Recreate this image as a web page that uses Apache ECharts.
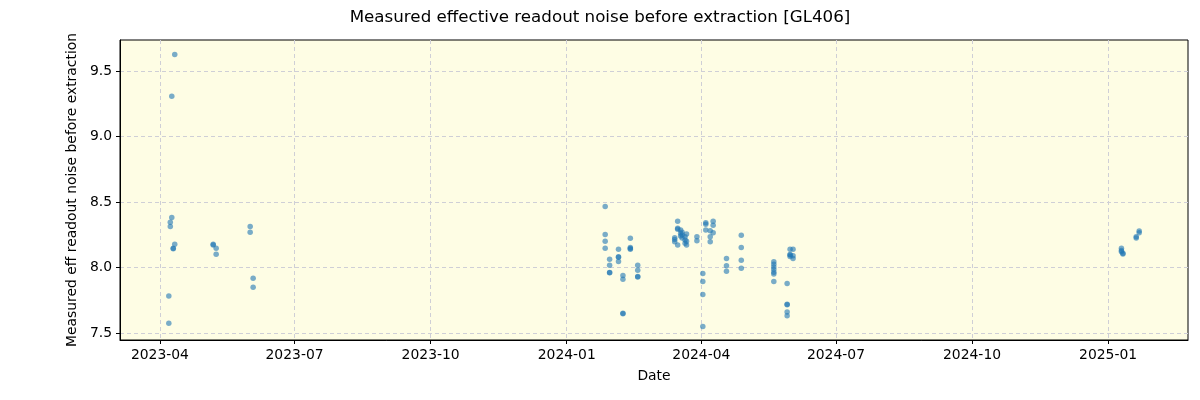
<!DOCTYPE html>
<html>
<head>
<meta charset="utf-8">
<script src="https://cdn.jsdelivr.net/npm/echarts@6/dist/echarts.min.js"></script>
<style>html,body{margin:0;padding:0;background:#fff;}#c{width:1200px;height:400px;}</style>
</head>
<body>
<div id="c"></div>
<script>
const dates = [
 '2023-04-07','2023-04-07','2023-04-08','2023-04-08','2023-04-09','2023-04-09',
 '2023-04-10','2023-04-10','2023-04-11','2023-04-11',
 '2023-05-07','2023-05-07','2023-05-09','2023-05-09',
 '2023-06-01','2023-06-01','2023-06-03','2023-06-03',
 '2024-01-27','2024-01-27','2024-01-27','2024-01-27',
 '2024-01-30','2024-01-30','2024-01-30','2024-01-30',
 '2024-02-05','2024-02-05','2024-02-05','2024-02-05',
 '2024-02-08','2024-02-08','2024-02-08','2024-02-08',
 '2024-02-13','2024-02-13','2024-02-13','2024-02-13',
 '2024-02-18','2024-02-18','2024-02-18','2024-02-18',
 '2024-03-14','2024-03-14','2024-03-14',
 '2024-03-16','2024-03-16','2024-03-16','2024-03-16',
 '2024-03-18','2024-03-18','2024-03-18',
 '2024-03-19','2024-03-19','2024-03-19',
 '2024-03-21','2024-03-21','2024-03-21',
 '2024-03-22','2024-03-22','2024-03-22',
 '2024-03-29','2024-03-29',
 '2024-04-02','2024-04-02','2024-04-02','2024-04-02',
 '2024-04-04','2024-04-04','2024-04-04',
 '2024-04-07','2024-04-07','2024-04-07',
 '2024-04-09','2024-04-09','2024-04-09',
 '2024-04-18','2024-04-18','2024-04-18',
 '2024-04-28','2024-04-28','2024-04-28','2024-04-28',
 '2024-05-20','2024-05-20','2024-05-20','2024-05-20','2024-05-20','2024-05-20','2024-05-20',
 '2024-05-29','2024-05-29','2024-05-29','2024-05-29','2024-05-29',
 '2024-05-31','2024-05-31','2024-05-31','2024-05-31',
 '2024-06-02','2024-06-02','2024-06-02',
 '2025-01-10','2025-01-10','2025-01-10','2025-01-11','2025-01-11',
 '2025-01-20','2025-01-20','2025-01-22','2025-01-22'
];
const values = [
 7.782,7.574,8.345,8.314,8.383,9.307,
 8.144,8.147,9.627,8.177,
 8.177,8.172,8.147,8.101,
 8.314,8.269,7.918,7.849,
 8.467,8.253,8.200,8.147,
 8.063,8.017,7.963,7.960,
 8.139,8.083,8.078,8.047,
 7.940,7.910,7.647,7.652,
 8.223,8.154,8.139,8.145,
 8.017,7.979,7.927,7.932,
 8.228,8.197,8.215,
 8.353,8.292,8.172,8.300,
 8.261,8.286,8.240,
 8.248,8.270,8.225,
 8.235,8.210,8.185,
 8.256,8.172,8.200,
 8.235,8.205,
 7.955,7.894,7.795,7.551,
 8.342,8.286,8.330,
 8.281,8.235,8.197,
 8.353,8.322,8.266,
 8.070,8.014,7.971,
 8.246,8.154,8.055,7.994,
 8.044,8.025,8.005,7.985,7.965,7.950,7.894,
 7.879,7.716,7.720,7.660,7.632,
 8.139,8.095,8.100,8.085,
 8.139,8.070,8.090,
 8.147,8.130,8.121,8.110,8.103,
 8.235,8.225,8.279,8.265
];
const xTickLabels = ['2023-04','2023-07','2023-10','2024-01','2024-04','2024-07','2024-10','2025-01'];
const yTickValues = [7.5, 8.0, 8.5, 9.0, 9.5];

function parseYM(s){ const p = s.split('-'); return Date.UTC(+p[0], +p[1]-1, 1); }
function parseD(s){ const p = s.split('-'); return Date.UTC(+p[0], +p[1]-1, +p[2]); }
const xTicks = xTickLabels.map(parseYM);
const pts = dates.map((d,i)=>[parseD(d), values[i]]);

const chart = echarts.init(document.getElementById('c'), null, {renderer:'canvas'});
const font = 'DejaVu Sans';
chart.setOption({
  animation: false,
  backgroundColor: '#ffffff',
  title: {
    text: 'Measured effective readout noise before extraction [GL406]',
    left: 'center', top: 4,
    textStyle: {fontFamily: font, fontSize: 16.7, fontWeight: 'normal', color: '#000'}
  },
  grid: {
    left: 120, right: 12, top: 40, bottom: 60,
    show: true, backgroundColor: '#fefde4', borderColor: '#000', borderWidth: 1
  },
  xAxis: {
    type: 'value',
    min: parseD('2023-03-05'), max: parseD('2025-02-24'),
    name: 'Date', nameLocation: 'middle', nameGap: 29,
    nameTextStyle: {fontFamily: font, fontSize: 13.9, color: '#000'},
    axisLine: {show: true, onZero: false, lineStyle: {color: '#000', width: 1}},
    axisTick: {show: true, inside: false, length: 4, lineStyle: {color: '#000'}, customValues: xTicks},
    axisLabel: {
      fontFamily: font, fontSize: 13.9, color: '#000', margin: 8,
      customValues: xTicks,
      formatter: function(v){ const d = new Date(v); return d.getUTCFullYear() + '-' + String(d.getUTCMonth()+1).padStart(2,'0'); }
    },
    splitLine: {show: true, lineStyle: {color: '#cfcfd6', type: [4, 3], width: 1}}
  },
  yAxis: {
    type: 'value',
    min: 7.447, max: 9.737,
    name: 'Measured eff readout noise before extraction', nameLocation: 'middle', nameGap: 38,
    nameRotate: 90,
    nameTextStyle: {fontFamily: font, fontSize: 13.9, color: '#000'},
    axisLine: {show: true, onZero: false, lineStyle: {color: '#000', width: 1}},
    axisTick: {show: true, inside: false, length: 4, lineStyle: {color: '#000'}, customValues: yTickValues},
    axisLabel: {
      fontFamily: font, fontSize: 13.9, color: '#000', margin: 8,
      customValues: yTickValues,
      formatter: function(v){ return v.toFixed(1); }
    },
    splitLine: {show: true, lineStyle: {color: '#cfcfd6', type: [4, 3], width: 1}}
  },
  series: [{
    type: 'scatter',
    data: pts,
    symbolSize: 5.5,
    itemStyle: {color: '#1f77b4', opacity: 0.6}
  }]
});
</script>
</body>
</html>
